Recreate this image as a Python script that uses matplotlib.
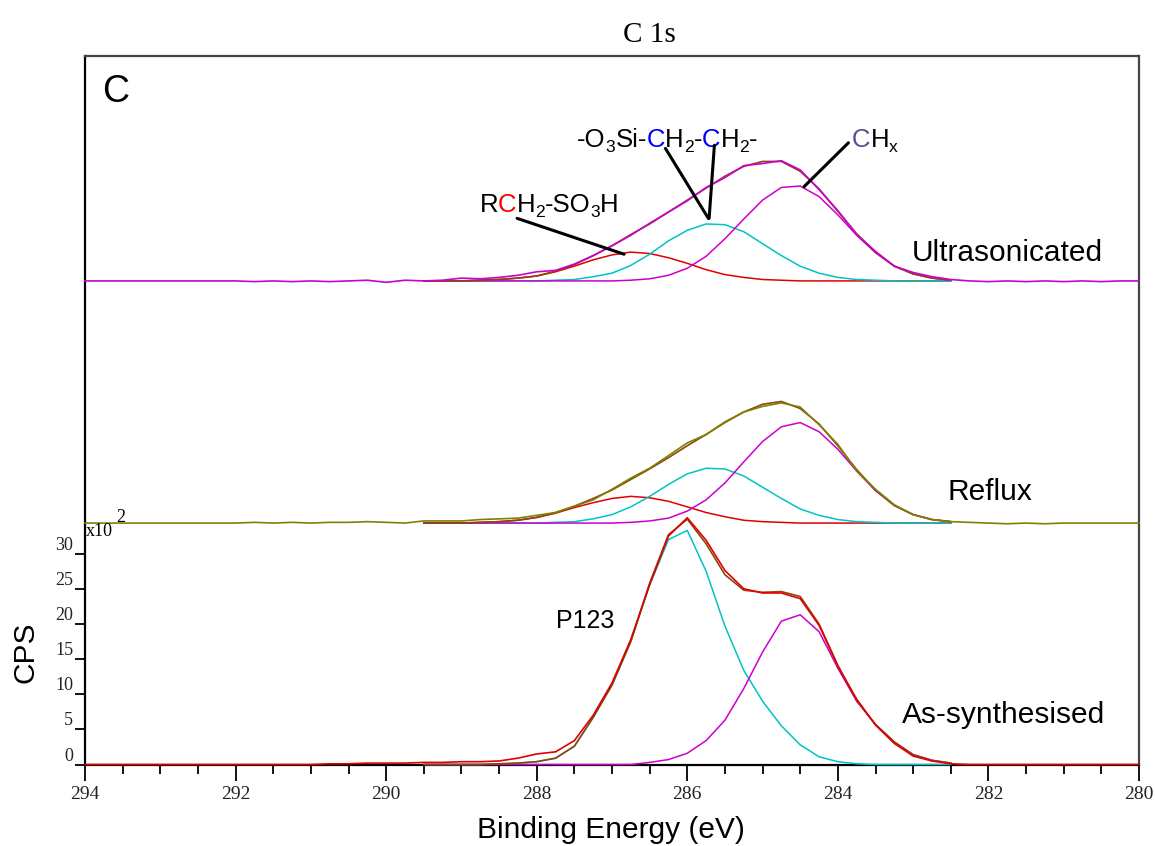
import numpy as np
import matplotlib
matplotlib.use("Agg")
import matplotlib.pyplot as plt
from matplotlib import transforms

plt.rcParams['font.family'] = ['Liberation Sans', 'DejaVu Sans']

# energy grids (eV): raw spectra over the full window, fitted peaks over the C 1s region
RAW_EV = np.linspace(294.0, 280.0, 57)
FIT_EV = np.linspace(289.5, 282.5, 29)

# --- Ultrasonicated ---
ultra_raw = np.array([
    0.0,
    0.0, 0.0, 0.0, 0.0,      # 293.75 - 293.0
    0.0, 0.0, 0.0, 0.0,      # 292
    -0.1, 0.0, -0.1, 0.0,    # 291
    -0.1, 0.0, 0.1, -0.2,    # 290
    0.1, 0.0, 0.1, 0.4,      # 289
    0.3, 0.5, 0.8, 1.3,      # 288
    1.5, 2.4, 3.6, 5.0,      # 287
    6.5, 8.2, 9.8, 11.4,     # 286
    13.3, 14.7, 16.4, 16.7,  # 285
    17.1, 15.8, 13.0, 10.0,  # 284
    6.6, 4.2, 2.1, 1.2,      # 283
    0.6, 0.2, 0.0, -0.1,     # 282
    0.0, -0.1, 0.0, -0.1,    # 281
    0.0, -0.1, 0.0, 0.0,     # 280
])
ultra_fit = np.array([0.0, 0.0, 0.0, 0.1, 0.2, 0.4, 0.7, 1.4, 2.3, 3.6, 5.0, 6.6, 8.1, 9.8,
                      11.5, 13.2, 14.9, 16.3, 17.0, 17.0, 15.6, 13.1, 9.9, 6.7, 4.1, 2.1,
                      1.0, 0.4, 0.1])
ultra_rch2 = np.array([0.0, 0.0, 0.0, 0.1, 0.2, 0.4, 0.7, 1.3, 2.1, 3.0, 3.7, 4.1, 3.9, 3.3,
                       2.5, 1.6, 0.9, 0.5, 0.2, 0.1, 0.0, 0.0, 0.0, 0.0, 0.0, 0.0, 0.0, 0.0, 0.0])
ultra_sich2 = np.array([0.0, 0.0, 0.0, 0.0, 0.0, 0.0, 0.0, 0.1, 0.2, 0.6, 1.1, 2.2, 3.8, 5.7,
                        7.2, 8.1, 8.0, 7.0, 5.3, 3.6, 2.1, 1.1, 0.5, 0.2, 0.1, 0.0, 0.0, 0.0, 0.0])
ultra_chx = np.array([0.0, 0.0, 0.0, 0.0, 0.0, 0.0, 0.0, 0.0, 0.0, 0.0, 0.0, 0.1, 0.3, 0.8,
                      1.8, 3.5, 6.0, 8.8, 11.5, 13.3, 13.5, 12.0, 9.4, 6.5, 4.0, 2.1, 1.0, 0.4, 0.1])

# --- Reflux ---
reflux_raw = np.array([
    0.0,
    0.0, 0.0, 0.0, 0.0,
    0.0, 0.0, 0.0, 0.0,
    0.1, 0.0, 0.1, 0.0,
    0.1, 0.1, 0.2, 0.1,
    0.0, 0.3, 0.3, 0.3,
    0.5, 0.6, 0.7, 1.1,
    1.5, 2.4, 3.3, 4.8,
    6.4, 7.8, 9.6, 11.4,
    12.6, 14.4, 15.8, 16.6,
    17.1, 16.5, 14.0, 11.2,
    7.4, 4.8, 2.6, 1.2,
    0.5, 0.2, 0.1, 0.0,
    -0.1, 0.0, -0.1, 0.0,
    0.0, 0.0, 0.0, 0.0,
])
reflux_fit = np.array([0.0, 0.0, 0.0, 0.1, 0.2, 0.4, 0.8, 1.5, 2.4, 3.5, 4.7, 6.2, 7.7, 9.3,
                       11.0, 12.6, 14.3, 15.8, 16.9, 17.3, 16.3, 14.1, 11.0, 7.6, 4.7, 2.5,
                       1.2, 0.5, 0.2])
reflux_rch2 = np.array([0.0, 0.0, 0.0, 0.1, 0.2, 0.4, 0.8, 1.4, 2.2, 2.9, 3.5, 3.8, 3.6, 3.1,
                        2.3, 1.5, 0.9, 0.4, 0.2, 0.1, 0.0, 0.0, 0.0, 0.0, 0.0, 0.0, 0.0, 0.0, 0.0])
reflux_sich2 = np.array([0.0, 0.0, 0.0, 0.0, 0.0, 0.0, 0.0, 0.1, 0.2, 0.6, 1.2, 2.3, 3.8, 5.5,
                         7.0, 7.8, 7.7, 6.7, 5.1, 3.5, 2.0, 1.1, 0.5, 0.2, 0.1, 0.0, 0.0, 0.0, 0.0])
reflux_chx = np.array([0.0, 0.0, 0.0, 0.0, 0.0, 0.0, 0.0, 0.0, 0.0, 0.0, 0.0, 0.1, 0.3, 0.7,
                       1.7, 3.3, 5.7, 8.7, 11.6, 13.7, 14.3, 13.0, 10.5, 7.4, 4.6, 2.5, 1.2, 0.5, 0.2])

# --- As-synthesised ---
as_raw = np.array([
    0.0,
    0.0, 0.0, 0.0, 0.0,
    0.0, 0.0, 0.0, 0.0,
    0.0, 0.0, 0.0, 0.0,
    0.1, 0.1, 0.2, 0.2,
    0.2, 0.3, 0.3, 0.4,
    0.4, 0.5, 0.9, 1.5,
    1.8, 3.4, 7.0, 11.6,
    17.8, 25.6, 32.5, 35.1,
    31.9, 27.6, 25.0, 24.4,
    24.4, 23.6, 19.8, 14.0,
    9.3, 5.6, 3.0, 1.2,
    0.5, 0.1, 0.0, 0.0,
    0.0, 0.0, 0.0, 0.0,
    0.0, 0.0, 0.0, 0.0,
])
as_fit = np.array([0.0, 0.0, 0.0, 0.0, 0.1, 0.2, 0.4, 0.9, 2.6, 6.7, 11.3, 17.5, 25.8, 32.7,
                   34.9, 31.4, 27.0, 24.8, 24.5, 24.6, 23.9, 20.0, 14.1, 9.1, 5.7, 3.2, 1.4, 0.6, 0.2])
as_p123 = np.array([0.0, 0.0, 0.0, 0.0, 0.1, 0.2, 0.4, 0.9, 2.6, 6.7, 11.3, 17.5, 25.5, 32.0,
                    33.3, 27.5, 19.7, 13.4, 9.0, 5.5, 2.8, 1.1, 0.4, 0.1, 0.0, 0.0, 0.0, 0.0, 0.0])
as_chx = np.array([0.0, 0.0, 0.0, 0.0, 0.0, 0.0, 0.0, 0.0, 0.0, 0.0, 0.0, 0.0, 0.3, 0.7,
                   1.6, 3.4, 6.3, 10.8, 16.0, 20.4, 21.3, 18.9, 13.7, 9.0, 5.7, 3.2, 1.4, 0.6, 0.2])

Y_TICKS = [0, 5, 10, 15, 20, 25, 30]
X_TICKS = [294, 292, 290, 288, 286, 284, 282, 280]

# vertical stacking of the three spectra (x100 CPS units)
REFLUX_OFFSET = 34.35
ULTRA_OFFSET = 68.8

RED = '#e00000'
CYAN = '#00c4c4'
MAGENTA = '#cc00cc'
BROWN = '#8b4513'
OLIVE = '#808000'


def colored_label(ax, x, y, pieces, size):
    # pieces: (text, colour, is_subscript) drawn one after another on a shared baseline
    fig = ax.figure
    renderer = fig.canvas.get_renderer()
    tr = ax.transData
    for s, c, sub in pieces:
        fs = size * 0.68 if sub else size
        place = transforms.offset_copy(tr, fig=fig, y=-size * 0.2 if sub else 0, units='points')
        t = ax.text(x, y, s, color=c, fontsize=fs, va='baseline', ha='left', transform=place)
        ex = t.get_window_extent(renderer=renderer)
        tr = transforms.offset_copy(tr, x=ex.width, units='dots')


def draw_spectrum(ax, offset, raw, raw_color, fit, comps):
    for vals, col in comps:
        ax.plot(FIT_EV, vals + offset, color=col, lw=1.1, clip_on=False, zorder=3)
    ax.plot(FIT_EV, fit + offset, color=BROWN, lw=1.2, clip_on=False, zorder=3)
    ax.plot(RAW_EV, raw + offset, color=raw_color, lw=1.2, clip_on=False, zorder=3)


def link(ax, start, end):
    ax.annotate('', xy=end, xytext=start,
                arrowprops=dict(arrowstyle='-', lw=2.2, color='k', shrinkA=0, shrinkB=0))


fig = plt.figure(figsize=(11.55, 8.46), dpi=100)
ax = fig.add_axes([85 / 1155, 1 - 764.5 / 846, 1054 / 1155, 708.5 / 846])
ax.set_xlim(294, 280)
ax.set_ylim(0, 100.8)

draw_spectrum(ax, ULTRA_OFFSET, ultra_raw, MAGENTA, ultra_fit,
              [(ultra_rch2, RED), (ultra_sich2, CYAN), (ultra_chx, MAGENTA)])
draw_spectrum(ax, REFLUX_OFFSET, reflux_raw, OLIVE, reflux_fit,
              [(reflux_rch2, RED), (reflux_sich2, CYAN), (reflux_chx, MAGENTA)])
draw_spectrum(ax, 0.0, as_raw, RED, as_fit,
              [(as_p123, CYAN), (as_chx, MAGENTA)])

# axes styling
for side in ['left', 'bottom']:
    ax.spines[side].set_linewidth(1.6)
    ax.spines[side].set_color('black')
for side in ['top', 'right']:
    ax.spines[side].set_linewidth(1.6)
    ax.spines[side].set_color('#444444')

ax.set_xticks(X_TICKS)
ax.set_xticks(np.arange(294, 279.9, -0.5), minor=True)
ax.set_yticks(Y_TICKS)
ax.tick_params(axis='x', which='major', direction='out', length=11.5, width=1.3, pad=4, labelsize=14)
ax.tick_params(axis='x', which='minor', direction='out', length=6.5, width=1.3)
ax.tick_params(axis='y', which='major', direction='out', length=7, width=1.3, pad=1.5, labelsize=13)
ax.tick_params(top=False, right=False)
for lbl in ax.get_xticklabels() + ax.get_yticklabels():
    lbl.set_fontfamily('Liberation Serif')
    lbl.set_color('#222222')
for lbl in ax.get_yticklabels():
    lbl.set_verticalalignment('bottom')

# x10^2 multiplier for the lower spectrum
ax.text(293.99, 32.55, 'x10', fontsize=13, family='Liberation Serif', va='baseline', ha='left')
ax.text(293.58, 34.5, '2', fontsize=13, family='Liberation Serif', va='baseline', ha='left')

# panel letter and spectrum names
ax.text(293.77, 94.2, 'C', fontsize=27, va='baseline', ha='left')
ax.text(283.02, 71.6, 'Ultrasonicated', fontsize=21.5, va='baseline', ha='left')
ax.text(282.55, 37.6, 'Reflux', fontsize=21.5, va='baseline', ha='left')
ax.text(283.15, 5.9, 'As-synthesised', fontsize=21.5, va='baseline', ha='left')
ax.text(287.74, 19.4, 'P123', fontsize=18, va='baseline', ha='left')

# component assignments
colored_label(ax, 288.76, 78.6,
              [('R', 'k', False), ('C', '#ff0000', False), ('H', 'k', False), ('2', 'k', True),
               ('-SO', 'k', False), ('3', 'k', True), ('H', 'k', False)], 18.5)
colored_label(ax, 287.46, 87.9,
              [('-O', 'k', False), ('3', 'k', True), ('Si-', 'k', False), ('C', '#0000ff', False),
               ('H', 'k', False), ('2', 'k', True), ('-', 'k', False), ('C', '#0000ff', False),
               ('H', 'k', False), ('2', 'k', True), ('-', 'k', False)], 18.5)
colored_label(ax, 283.81, 87.9, [('C', '#5f4b8b', False), ('H', 'k', False), ('x', 'k', True)], 18.5)

link(ax, (288.26, 77.7), (286.84, 72.6))
link(ax, (286.29, 87.65), (285.72, 77.7))
link(ax, (285.64, 88.1), (285.71, 77.7))
link(ax, (283.86, 88.45), (284.45, 82.2))

# titles / axis labels
fig.text(649 / 1155, 1 - 42 / 846, 'C 1s', fontsize=21, family='Liberation Serif',
         ha='center', va='baseline')
fig.text(611 / 1155, 1 - 838 / 846, 'Binding Energy (eV)', fontsize=21.5,
         ha='center', va='baseline')
fig.text(25.5 / 1155, 1 - 652.5 / 846, 'CPS', fontsize=21.5, rotation=90,
         ha='center', va='center')

fig.savefig('out.png', dpi=100)
